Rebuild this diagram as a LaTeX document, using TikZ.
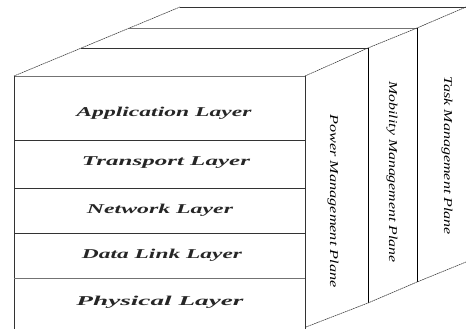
\documentclass[tikz,border=0pt]{standalone}
\usepackage{fontspec}
\setmainfont{Liberation Serif}
\usepackage{graphicx}
\newcommand{\stretchtxt}[2]{\resizebox{#1}{\height}{#2}}
\begin{document}
\begin{tikzpicture}[x=1pt,y=-1pt,
  edge/.style={black!80,line width=0.7pt},
  hidden/.style={black!55,line width=0.6pt},
  slant/.style={black!75,line width=0.6pt,dash pattern=on 1.6pt off 0.6pt},
  layertxt/.style={font=\fontsize{13.5}{13.5}\selectfont\bfseries\itshape,text=black!85,inner sep=0pt,anchor=center},
  planetxt/.style={font=\fontsize{12}{12}\selectfont\itshape,inner sep=0pt,anchor=center,rotate=-90}]
\useasboundingbox (0,0) rectangle (466,329);
% top face
\draw[slant] (14,76) -- (180,7);
\draw[edge] (180,7) -- (466,7);
\draw[edge] (81,48) -- (368,48);
\draw[hidden] (129,28) -- (417,28);
\draw[slant] (305,76) -- (368,48) -- (417,28) -- (466,7);
% front face
\draw[hidden] (14,76) -- (305,76);
\draw[edge] (14,76) -- (14,329);
\draw[edge] (305,76) -- (305,329);
\draw[edge] (14,140) -- (305,140);
\draw[edge,line width=0.9pt] (14,188) -- (305,188);
\draw[edge] (14,233) -- (305,233);
\draw[hidden] (14,278) -- (305,278);
% side planes
\draw[edge,black] (368,48) -- (368,303);
\draw[edge,black] (417,28) -- (417,282);
\draw[slant] (306,327) -- (368,303) -- (417,282) -- (466,262);
% layer labels
\node[layertxt] (app) at (164,113) {\stretchtxt{175pt}{Application Layer}};
\node[layertxt] (trn) at (166,163) {\stretchtxt{168pt}{Transport Layer}};
\node[layertxt] (net) at (160,210) {\stretchtxt{146pt}{Network Layer}};
\node[layertxt] (dll) at (162,255) {\stretchtxt{160pt}{Data Link Layer}};
\node[layertxt] (phy) at (160,302) {\stretchtxt{167pt}{Physical Layer}};
% plane labels
\node[planetxt] (pwr) at (333,201) {\stretchtxt{173pt}{Power Management Plane}};
\node[planetxt] (mob) at (392,172) {\stretchtxt{181pt}{Mobility Management Plane}};
\node[planetxt] (task) at (447,156) {\stretchtxt{158pt}{Task Management Plane}};
\end{tikzpicture}
\end{document}
